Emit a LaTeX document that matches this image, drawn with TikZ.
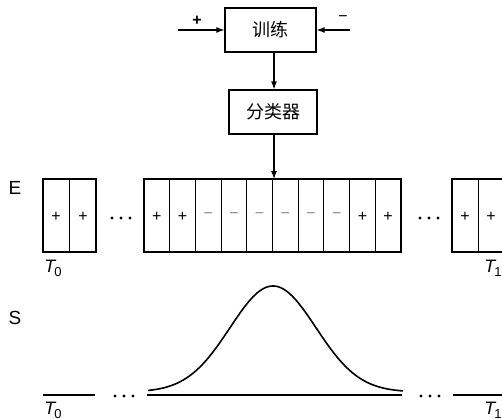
\documentclass[tikz,border=0pt]{standalone}
\usepackage{fontspec}
\setmainfont{Liberation Sans}
\newfontfamily\cjk{Noto Sans CJK SC}
\usetikzlibrary{arrows.meta}
\begin{document}
\begin{tikzpicture}[x=1pt,y=-1pt,
  blockbox/.style={draw,line width=1.3pt,inner sep=0pt,font=\cjk\fontsize{18}{18}\selectfont},
  arr/.style={line width=1.1pt,-{Latex[length=8pt,width=6pt]}},
  thick box/.style={line width=2pt},
  divider/.style={line width=1pt},
  sym/.style={font=\fontsize{16}{16}\selectfont,inner sep=0pt},
  minus/.style={sym,text=black!45},
  lab/.style={font=\fontsize{19}{19}\selectfont,inner sep=0pt},
  tlab/.style={font=\fontsize{18}{18}\selectfont,inner sep=0pt},
  dot/.style={fill=black,circle,inner sep=0pt,minimum size=3.4pt},
  base/.style={line width=2pt}]
\useasboundingbox (0,0) rectangle (502,418);
\clip (0,0) rectangle (502,418);
% top blocks
\node[blockbox,minimum width=91pt,minimum height=44pt] (train) at (270.5,30) {训练};
\node[blockbox,minimum width=88pt,minimum height=44pt] (cls) at (273,112) {分类器};
\coordinate (lin) at (178,30);
\coordinate (rin) at (350,30);
\draw[arr] (lin) -- (train.west);
\draw[arr] (rin) -- (train.east);
\node[font=\fontsize{16}{16}\selectfont\bfseries,inner sep=0pt] (plus) at (197,21) {+};
\node[font=\fontsize{16}{16}\selectfont,inner sep=0pt] (minustop) at (343,19) {−};
\draw[arr] (train.south -| 274,0) -- (cls.north -| 274,0);
\coordinate (etop) at (274,179);
\draw[arr] (cls.south -| 274,0) -- (etop);
% labels
\node[lab] (E) at (15,188) {E};
\node[lab] (S) at (15,318) {S};
% E row: left box
\draw[thick box] (43,179) rectangle (96,252);
\draw[divider] (69.5,179) -- (69.5,252);
\node[sym] (l1) at (56,217) {+};
\node[sym] (l2) at (83,217) {+};
\node[dot] (d1) at (112,218) {};
\node[dot] (d2) at (121,218) {};
\node[dot] (d3) at (130,218) {};
% big box
\draw[thick box] (144,179) rectangle (401,252);
\foreach \i in {1,...,9} {\draw[divider] ({144+\i*25.7},179) -- ({144+\i*25.7},252);}
\foreach \i/\s in {0/+,1/+,8/+,9/+} {\node[sym] (c\i) at ({144+\i*25.7+12.85},217) {\s};}
\foreach \i in {2,...,7} {\node[minus] (c\i) at ({144+\i*25.7+12.85},216) {−};}
\node[dot] (d4) at (420,218) {};
\node[dot] (d5) at (429,218) {};
\node[dot] (d6) at (438,218) {};
% right partial box
\draw[thick box] (510,179) -- (452,179) -- (452,252) -- (510,252);
\draw[divider] (478,179) -- (478,252);
\node[sym] (r1) at (465,217) {+};
\node[sym] (r2) at (491,217) {+};
\node[tlab] (t0a) at (53,268) {\itshape T\kern-1pt\raisebox{-4pt}{\upshape\fontsize{13}{13}\selectfont 0}};
\node[tlab] (t1a) at (493,268) {\itshape T\kern-1pt\raisebox{-4pt}{\upshape\fontsize{13}{13}\selectfont 1}};
% S row
\draw[base] (43,395) -- (95,395);
\draw[base] (147,395) -- (402,395);
\draw[base] (453,395) -- (505,395);
\node[dot] (e1) at (115,396) {};
\node[dot] (e2) at (124,396) {};
\node[dot] (e3) at (133,396) {};
\node[dot] (e4) at (421,396) {};
\node[dot] (e5) at (430,396) {};
\node[dot] (e6) at (439,396) {};
\draw[line width=1.6pt,line join=round] plot[domain=148:403,samples=120,smooth] (\x,{392-106*exp(-0.5*((\x-273)/43)*((\x-273)/43))});
\node[tlab] (t0b) at (53,410) {\itshape T\kern-1pt\raisebox{-4pt}{\upshape\fontsize{13}{13}\selectfont 0}};
\node[tlab] (t1b) at (493,410) {\itshape T\kern-1pt\raisebox{-4pt}{\upshape\fontsize{13}{13}\selectfont 1}};
\end{tikzpicture}
\end{document}
